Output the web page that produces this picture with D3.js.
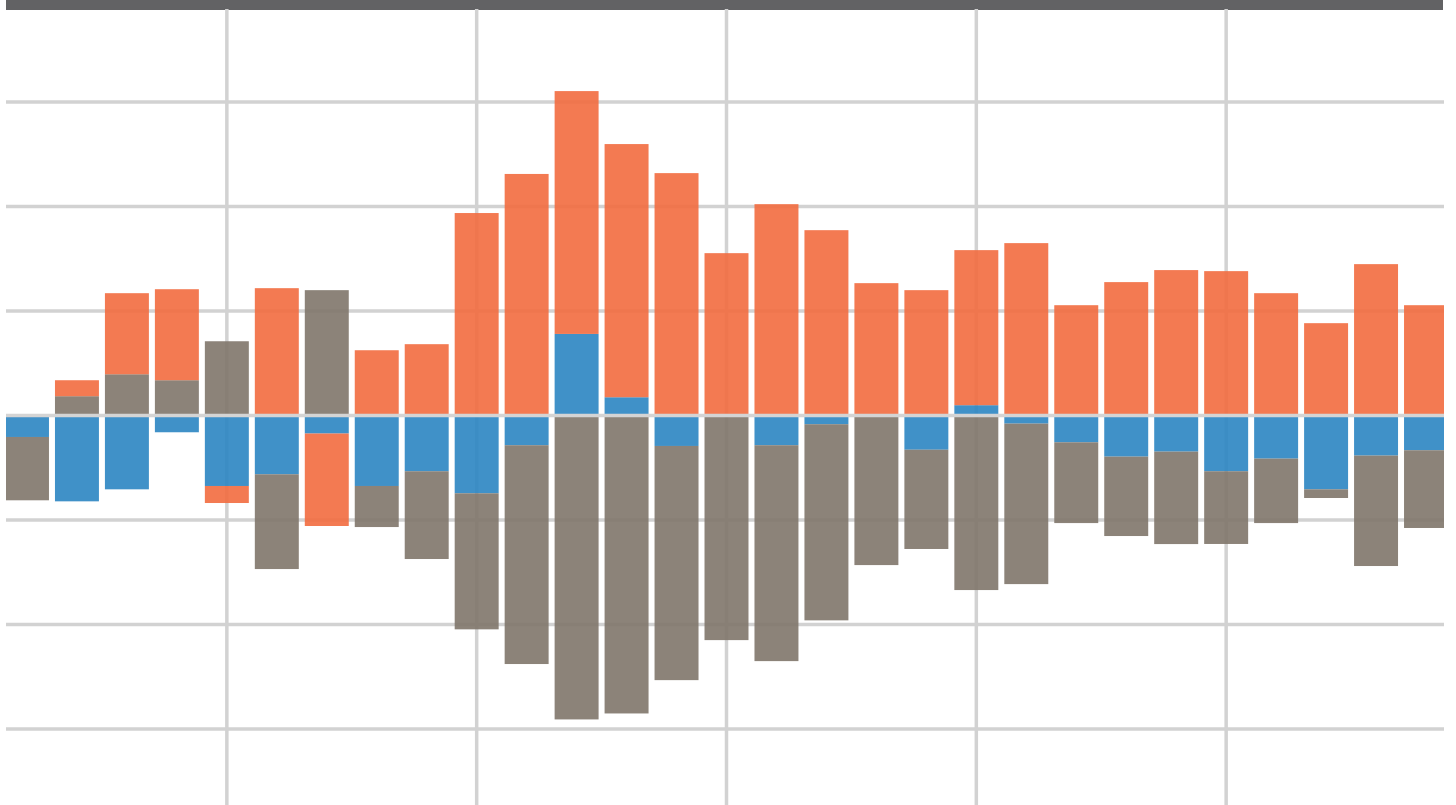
<!DOCTYPE html>
<html>
<head>
<meta charset="utf-8">
<script src="https://cdn.jsdelivr.net/npm/d3@7/dist/d3.min.js"></script>
<style>
    body { margin: 0; background: #ffffff; }
    svg { display: block; }
</style>
</head>
<body>
<svg id="chart" width="1456" height="805"></svg>
<script>
    // data, one value per year
    var years = d3.range(1996, 2025);
    var blueValues = [-2.05, -8.21, -7.06, -1.60, -6.74, -5.62, -1.72, -6.74, -5.33, -7.44,
                      -2.84, 7.81, 1.75, -2.91, 0, -2.84, -0.83, 0, -3.27, 0.99,
                      -0.77, -2.56, -3.93, -3.45, -5.33, -4.12, -7.06, -3.83, -3.32];
    var grayValues = [-6.06, 1.85, 3.95, 3.38, 7.11, -9.07, 12.0, -3.93, -8.40, -13.02,
                      -20.94, -29.08, -28.51, -22.41, -21.49, -20.66, -18.77, -14.31, -9.50, -16.70,
                      -15.36, -7.73, -7.60, -8.85, -6.96, -6.17, -0.83, -10.57, -7.44];
    var orangeValues = [0, 1.53, 7.76, 8.71, -1.63, 12.19, -8.85, 6.25, 6.83, 19.38,
                        23.12, 23.24, 24.23, 23.2, 15.54, 20.23, 17.74, 12.67, 12.0, 14.84,
                        16.5, 10.56, 12.77, 13.92, 13.82, 11.71, 8.84, 14.49, 10.56];
    var yTicks = [-30, -20, -10, 0, 10, 20, 30];
    var xTicks = [2000, 2005, 2010, 2015, 2020];

    var keys = ["blue", "gray", "orange"];
    var colors = { blue: "#2b85c2", gray: "#80766a", orange: "#f26c3f" };

    function drawChart() {
        var rows = years.map(function (yr, i) {
            return { year: yr, blue: blueValues[i], gray: grayValues[i], orange: orangeValues[i] };
        });

        var plotLeft = 6, plotRight = 1444, plotTop = 10, plotBottom = 805;

        var x = d3.scaleBand()
            .domain(years)
            .range([2, 1451])
            .paddingInner(0.12)
            .paddingOuter(0.06);

        var y = d3.scaleLinear()
            .domain([-37.27, 38.81])
            .range([plotBottom, plotTop]);

        var svg = d3.select("#chart");

        svg.append("clipPath")
            .attr("id", "plotClip")
            .append("rect")
            .attr("x", plotLeft)
            .attr("y", plotTop - 1)
            .attr("width", plotRight - plotLeft)
            .attr("height", plotBottom - plotTop + 1);

        // dark band along the top
        svg.append("rect")
            .attr("x", plotLeft)
            .attr("y", 0)
            .attr("width", plotRight - 1 - plotLeft)
            .attr("height", plotTop)
            .style("fill", "#626264");

        var plot = svg.append("g").attr("clip-path", "url(#plotClip)");

        // grid
        plot.append("g").selectAll("line")
            .data(yTicks.filter(function (d) { return d !== 0; }))
            .enter().append("line")
            .attr("x1", plotLeft)
            .attr("x2", plotRight)
            .attr("y1", function (d) { return y(d); })
            .attr("y2", function (d) { return y(d); })
            .style("stroke", "#d2d2d2")
            .style("stroke-width", 3.5);

        plot.append("g").selectAll("line")
            .data(xTicks)
            .enter().append("line")
            .attr("x1", function (d) { return x(d) + x.bandwidth() / 2; })
            .attr("x2", function (d) { return x(d) + x.bandwidth() / 2; })
            .attr("y1", plotTop - 1)
            .attr("y2", plotBottom)
            .style("stroke", "#d2d2d2")
            .style("stroke-width", 3.5);

        // stacked bars, positives up and negatives down from zero
        var series = d3.stack()
            .keys(keys)
            .offset(d3.stackOffsetDiverging)(rows);

        plot.append("g").selectAll("g")
            .data(series)
            .enter().append("g")
            .style("fill", function (s) { return colors[s.key]; })
            .style("fill-opacity", 0.9)
            .selectAll("rect")
            .data(function (s) { return s; })
            .enter().append("rect")
            .attr("x", function (d) { return x(d.data.year); })
            .attr("width", x.bandwidth())
            .attr("y", function (d) { return y(Math.max(d[0], d[1])); })
            .attr("height", function (d) { return Math.abs(y(d[0]) - y(d[1])); });

        // zero line sits over the bars
        plot.append("line")
            .attr("x1", plotLeft)
            .attr("x2", plotRight)
            .attr("y1", y(0))
            .attr("y2", y(0))
            .style("stroke", "#d4d4d4")
            .style("stroke-width", 3.5);
    }

    drawChart();
</script>
</body>
</html>
